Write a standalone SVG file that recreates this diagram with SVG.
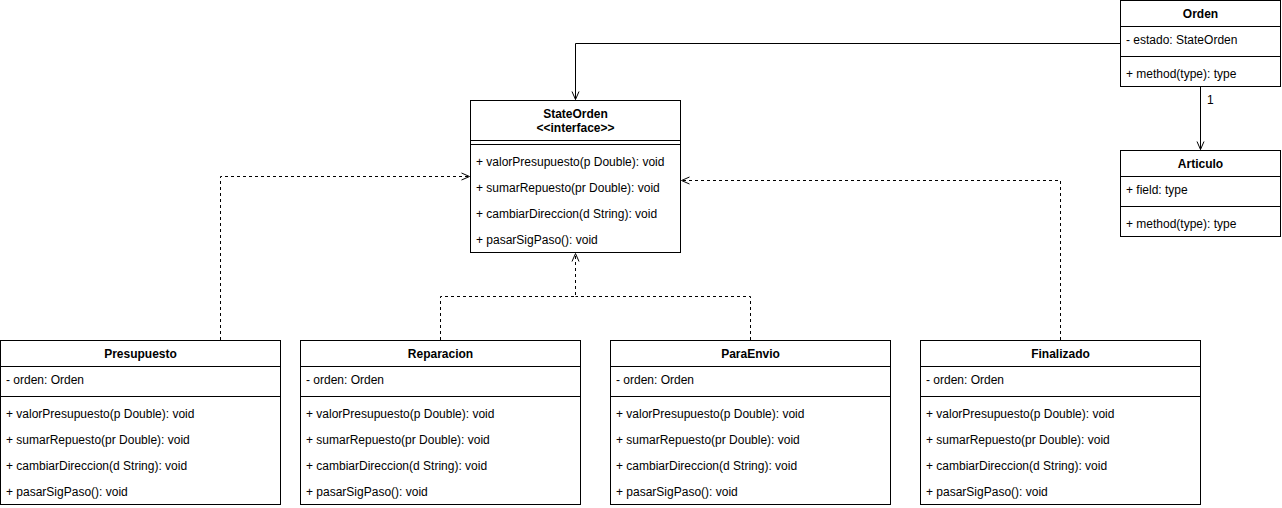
<svg xmlns="http://www.w3.org/2000/svg" width="1282" height="508" viewBox="0 0 1282 508">
<style>
.box{fill:#fff;stroke:#000;stroke-width:1}
.ln{stroke:#000;stroke-width:1;fill:none}
.t{font-family:"Liberation Sans",Arial,Helvetica,sans-serif;font-size:12px;fill:#000}
.h{font-weight:bold;text-anchor:middle}
.c{fill:none;stroke:#000;stroke-width:1}
.d{stroke-dasharray:3 3}
</style>
<defs>
<marker id="open" viewBox="0 0 10 10" refX="9" refY="5" markerWidth="10" markerHeight="10" markerUnits="userSpaceOnUse" orient="auto">
<path d="M1,1.5 L9,5 L1,8.5" fill="none" stroke="#000" stroke-width="1"/>
</marker>
</defs>
<rect width="1282" height="508" fill="#fff"/>
<g id="connectors">
<path class="c" d="M1120,43.5 H575.5 V99.5" marker-end="url(#open)"/>
<path class="c" d="M1200.5,86.5 V149.5" marker-end="url(#open)"/>
<text class="t" x="1207" y="104">1</text>
<path class="c d" d="M220.5,340 V176.5 H469.5" marker-end="url(#open)"/>
<path class="c d" d="M440.5,340 V296.5 H575.5 V253.5" marker-end="url(#open)"/>
<path class="c d" d="M750.5,340 V296.5 H575.5"/>
<path class="c d" d="M1060.5,340 V180.5 H681.5" marker-end="url(#open)"/>
</g>
<g id="StateOrden">
<rect class="box" x="470.5" y="100.5" width="210" height="152"/>
<text class="t h" x="575.5" y="118">StateOrden</text>
<text class="t h" x="575.5" y="132">&lt;&lt;interface&gt;&gt;</text>
<line class="ln" x1="470.5" y1="140.5" x2="680.5" y2="140.5"/>
<line class="ln" x1="470.5" y1="144.5" x2="680.5" y2="144.5"/>
<text class="t" x="476" y="166">+ valorPresupuesto(p Double): void</text>
<text class="t" x="476" y="192">+ sumarRepuesto(pr Double): void</text>
<text class="t" x="476" y="218">+ cambiarDireccion(d String): void</text>
<text class="t" x="476" y="244">+ pasarSigPaso(): void</text>
</g>
<g id="Orden">
<rect class="box" x="1120.5" y="0.5" width="160" height="86"/>
<text class="t h" x="1200.5" y="18">Orden</text>
<line class="ln" x1="1120.5" y1="26.5" x2="1280.5" y2="26.5"/>
<text class="t" x="1126" y="44">- estado: StateOrden</text>
<line class="ln" x1="1120.5" y1="56.5" x2="1280.5" y2="56.5"/>
<text class="t" x="1126" y="78">+ method(type): type</text>
</g>
<g id="Articulo">
<rect class="box" x="1120.5" y="150.5" width="160" height="86"/>
<text class="t h" x="1200.5" y="168">Articulo</text>
<line class="ln" x1="1120.5" y1="176.5" x2="1280.5" y2="176.5"/>
<text class="t" x="1126" y="194">+ field: type</text>
<line class="ln" x1="1120.5" y1="206.5" x2="1280.5" y2="206.5"/>
<text class="t" x="1126" y="228">+ method(type): type</text>
</g>
<g id="Presupuesto">
<rect class="box" x="0.5" y="340.5" width="280" height="164"/>
<text class="t h" x="140.5" y="358">Presupuesto</text>
<line class="ln" x1="0.5" y1="366.5" x2="280.5" y2="366.5"/>
<text class="t" x="6" y="384">- orden: Orden</text>
<line class="ln" x1="0.5" y1="396.5" x2="280.5" y2="396.5"/>
<text class="t" x="6" y="418">+ valorPresupuesto(p Double): void</text>
<text class="t" x="6" y="444">+ sumarRepuesto(pr Double): void</text>
<text class="t" x="6" y="470">+ cambiarDireccion(d String): void</text>
<text class="t" x="6" y="496">+ pasarSigPaso(): void</text>
</g>
<g id="Reparacion">
<rect class="box" x="300.5" y="340.5" width="280" height="164"/>
<text class="t h" x="440.5" y="358">Reparacion</text>
<line class="ln" x1="300.5" y1="366.5" x2="580.5" y2="366.5"/>
<text class="t" x="306" y="384">- orden: Orden</text>
<line class="ln" x1="300.5" y1="396.5" x2="580.5" y2="396.5"/>
<text class="t" x="306" y="418">+ valorPresupuesto(p Double): void</text>
<text class="t" x="306" y="444">+ sumarRepuesto(pr Double): void</text>
<text class="t" x="306" y="470">+ cambiarDireccion(d String): void</text>
<text class="t" x="306" y="496">+ pasarSigPaso(): void</text>
</g>
<g id="ParaEnvio">
<rect class="box" x="610.5" y="340.5" width="280" height="164"/>
<text class="t h" x="750.5" y="358">ParaEnvio</text>
<line class="ln" x1="610.5" y1="366.5" x2="890.5" y2="366.5"/>
<text class="t" x="616" y="384">- orden: Orden</text>
<line class="ln" x1="610.5" y1="396.5" x2="890.5" y2="396.5"/>
<text class="t" x="616" y="418">+ valorPresupuesto(p Double): void</text>
<text class="t" x="616" y="444">+ sumarRepuesto(pr Double): void</text>
<text class="t" x="616" y="470">+ cambiarDireccion(d String): void</text>
<text class="t" x="616" y="496">+ pasarSigPaso(): void</text>
</g>
<g id="Finalizado">
<rect class="box" x="920.5" y="340.5" width="280" height="164"/>
<text class="t h" x="1060.5" y="358">Finalizado</text>
<line class="ln" x1="920.5" y1="366.5" x2="1200.5" y2="366.5"/>
<text class="t" x="926" y="384">- orden: Orden</text>
<line class="ln" x1="920.5" y1="396.5" x2="1200.5" y2="396.5"/>
<text class="t" x="926" y="418">+ valorPresupuesto(p Double): void</text>
<text class="t" x="926" y="444">+ sumarRepuesto(pr Double): void</text>
<text class="t" x="926" y="470">+ cambiarDireccion(d String): void</text>
<text class="t" x="926" y="496">+ pasarSigPaso(): void</text>
</g>
</svg>
